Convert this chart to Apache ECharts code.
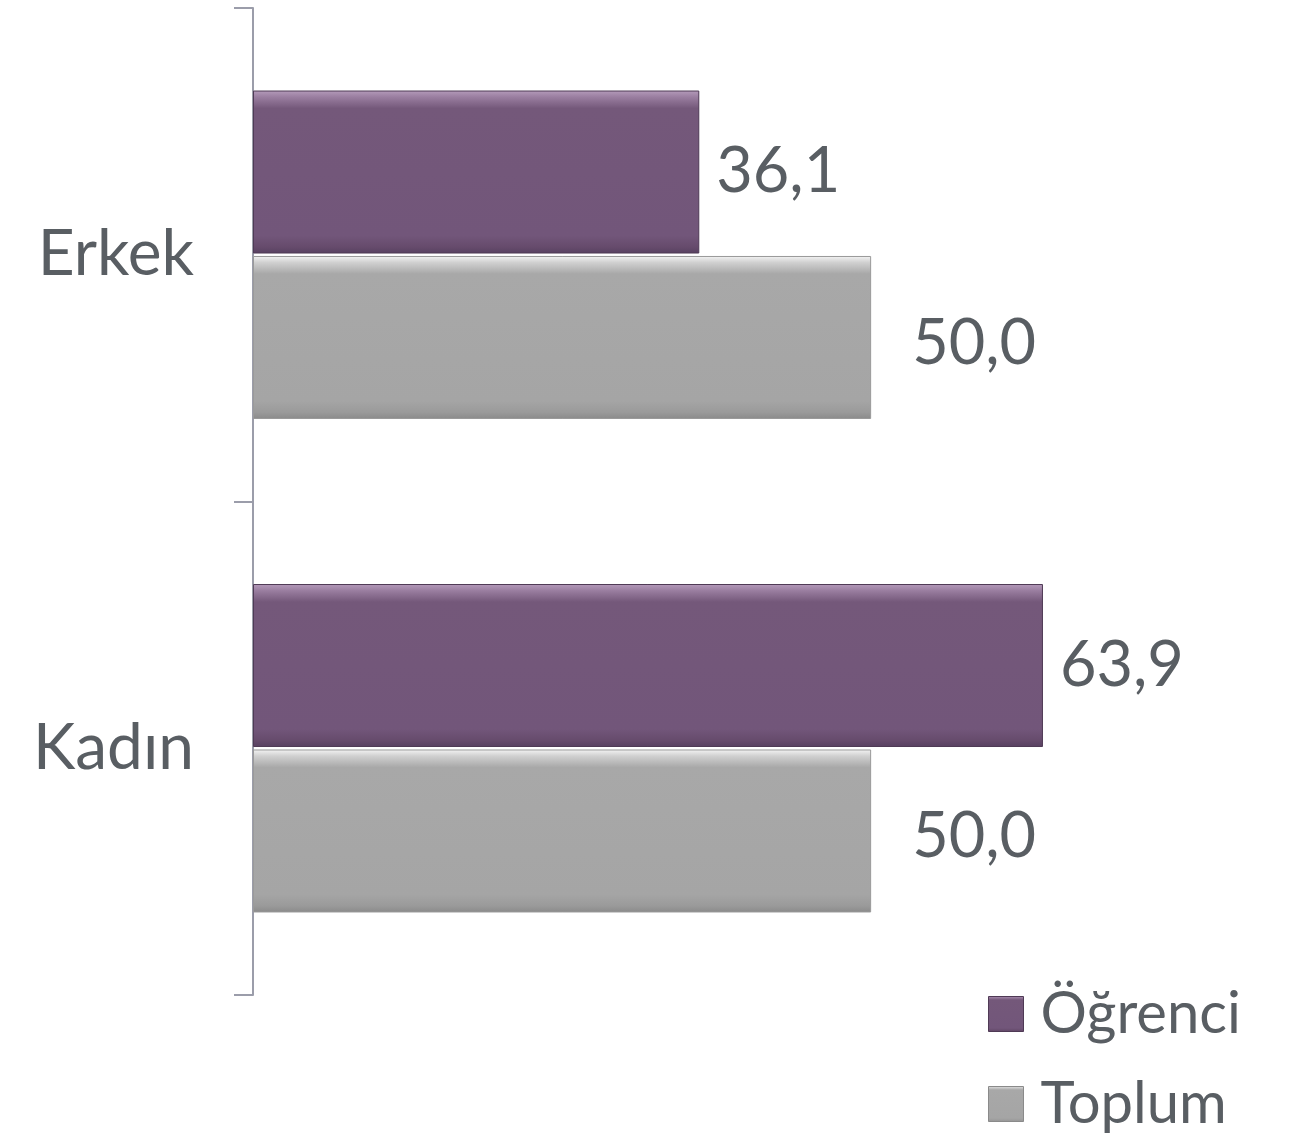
<!DOCTYPE html>
<html>
<head>
<meta charset="utf-8">
<script src="https://cdn.jsdelivr.net/npm/echarts@6/dist/echarts.min.js"></script>
<style>html,body{margin:0;padding:0;background:#fff}#c{width:1297px;height:1143px}</style>
</head>
<body>
<div id="c"></div>
<script>
const categories = ['Erkek', 'Kadın'];
const seriesNames = ['Öğrenci', 'Toplum'];
const ogrenci = [36.1, 63.9];
const toplum = [50.0, 50.0];

const font = 'Lato, "Open Sans", sans-serif';
const textColor = '#595e63';

function grad(c) {
  return new echarts.graphic.LinearGradient(0, 0, 0, 1, [
    {offset: 0, color: c[0]}, {offset: 0.04, color: c[1]}, {offset: 0.11, color: c[2]},
    {offset: 0.89, color: c[3]}, {offset: 0.96, color: c[4]}, {offset: 1, color: c[5]}
  ]);
}
const purple = ['#b59bbb', '#9a7ea0', '#74587a', '#72567a', '#664b6c', '#574060'];
const gray = ['#f4f4f4', '#d0d0d0', '#a8a8a8', '#a5a5a5', '#9a9a9a', '#8a8a8a'];

function fmt(p) { return p.value.toFixed(1).replace('.', ','); }

const legendText = {fontFamily: font, fontSize: 58, color: textColor, padding: [0, 0, 0, 12]};

const chart = echarts.init(document.getElementById('c'));
chart.setOption({
  animation: false,
  grid: {left: 253, right: 55, top: 8, bottom: 148, containLabel: false},
  xAxis: {type: 'value', min: 0, max: 80, show: false, splitLine: {show: false}},
  yAxis: {
    type: 'category', data: categories, inverse: true,
    axisLine: {show: true, lineStyle: {color: '#9b9daa', width: 2}},
    axisTick: {show: true, length: 19, lineStyle: {color: '#9b9daa', width: 2}},
    axisLabel: {fontFamily: font, fontSize: 64, color: textColor, margin: 59}
  },
  legend: [
    {
      left: 983, top: 980, itemWidth: 35, itemHeight: 35, textStyle: legendText,
      data: [{name: seriesNames[0], icon: 'rect', itemStyle: {color: grad(purple), borderColor: '#4f3a55', borderWidth: 1}}]
    },
    {
      left: 983, top: 1070, itemWidth: 35, itemHeight: 35, textStyle: legendText,
      data: [{name: seriesNames[1], icon: 'rect', itemStyle: {color: grad(gray), borderColor: '#8a8a8a', borderWidth: 1}}]
    }
  ],
  series: [
    {
      name: seriesNames[0], type: 'bar', barWidth: 163, barGap: '1.5%',
      itemStyle: {color: grad(purple), borderColor: '#4f3a55', borderWidth: 1},
      label: {show: true, position: 'right', distance: 17, formatter: fmt, fontFamily: font, fontSize: 63, color: textColor},
      data: ogrenci
    },
    {
      name: seriesNames[1], type: 'bar', barWidth: 163,
      itemStyle: {color: grad(gray), borderColor: '#9a9a9a', borderWidth: 1},
      label: {show: true, position: 'right', distance: 41, offset: [0, 6], formatter: fmt, fontFamily: font, fontSize: 63, color: textColor},
      data: toplum
    }
  ]
});
</script>
</body>
</html>
